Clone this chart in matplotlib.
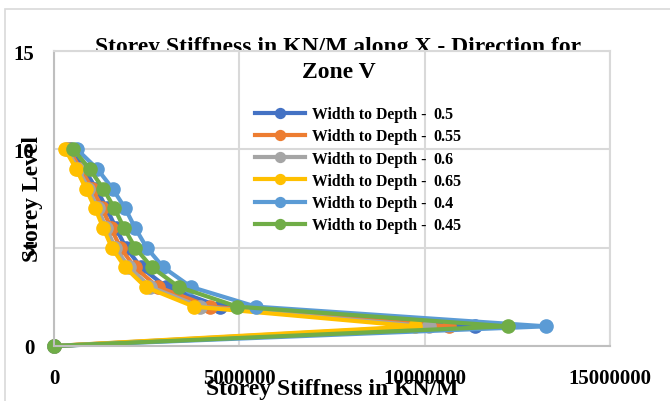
import matplotlib.pyplot as plt
from matplotlib.patches import Rectangle

plt.rcParams['font.family'] = ['Liberation Serif', 'DejaVu Serif']
plt.rcParams['font.weight'] = 'bold'

levels = [0, 1, 2, 3, 4, 5, 6, 7, 8, 9, 10]

ratios = ['0.5', '0.55', '0.6', '0.65', '0.4', '0.45']
colors = ['#4472C4', '#ED7D31', '#A5A5A5', '#FFC000', '#5B9BD5', '#70AD47']

# stiffness per storey level, KN/M
wd_050 = [0, 11360000, 4480000, 3030000, 2350000, 1940000, 1670000, 1420000, 1140000, 810000, 430000]
wd_055 = [0, 10660000, 4210000, 2800000, 2180000, 1790000, 1540000, 1300000, 1030000, 720000, 390000]
wd_060 = [0, 10120000, 3940000, 2600000, 2020000, 1650000, 1410000, 1180000, 930000, 650000, 340000]
wd_065 = [0, 9740000, 3780000, 2470000, 1920000, 1560000, 1330000, 1110000, 860000, 600000, 300000]
wd_040 = [0, 13270000, 5450000, 3700000, 2950000, 2500000, 2190000, 1920000, 1580000, 1170000, 620000]
wd_045 = [0, 12240000, 4950000, 3370000, 2640000, 2190000, 1890000, 1630000, 1330000, 960000, 520000]

series = [wd_050, wd_055, wd_060, wd_065, wd_040, wd_045]

fig = plt.figure(figsize=(6.7, 4.02), dpi=100)
ax = fig.add_axes([54 / 670, 1 - 347 / 402, 556 / 670, 295 / 402])

# outer chart border
fig.patches.append(Rectangle((5 / 670, -0.1), 1.2, 1 - 10 / 402 + 0.1,
                             transform=fig.transFigure, fill=False,
                             edgecolor='#D9D9D9', linewidth=1.2, zorder=-5))

for vals, c in zip(series, colors):
    ax.plot(vals, levels, color=c, linewidth=3, marker='o', markersize=9.5,
            label='Width to Depth -', clip_on=False)

ax.set_xlim(0, 15000000)
ax.set_ylim(0, 15)
ax.set_xticks([0, 5000000, 10000000, 15000000])
ax.set_yticks([0, 5, 10, 15])
ax.ticklabel_format(style='plain', axis='x', useOffset=False)
ax.grid(True, color='#D9D9D9', linewidth=1.5)
ax.set_axisbelow(True)
for s in ax.spines.values():
    s.set_color('#D9D9D9')
    s.set_linewidth(1.5)
ax.spines['bottom'].set_color('#BFBFBF')
ax.spines['left'].set_color('#BFBFBF')
ax.tick_params(length=0, labelsize=15, pad=14)
ax.tick_params(axis='x', pad=16)
for lab in ax.get_xticklabels() + ax.get_yticklabels():
    lab.set_fontweight('bold')

ax.set_xlabel('Storey Stiffness in KN/M', fontsize=17, fontweight='bold', labelpad=-7)
ax.set_ylabel('Storey Level', fontsize=17, fontweight='bold', labelpad=-21)

# first title line sits behind the plot area, second line on top
fig.text(0.505, 1 - 47 / 402, 'Storey Stiffness in KN/M along X - Direction for',
         ha='center', va='center', fontsize=17, fontweight='bold', zorder=-1)
fig.text(0.505, 1 - 73 / 402, 'Zone V', ha='center', va='center',
         fontsize=17, fontweight='bold', zorder=5)

leg = ax.legend(loc='upper left', bbox_to_anchor=(255 / 670, 1 - 107 / 402),
                bbox_transform=fig.transFigure, frameon=False,
                handlelength=3.2, handletextpad=0.45, labelspacing=0.4,
                borderpad=0, borderaxespad=0, markerscale=0.75,
                prop={'weight': 'bold', 'size': 11.3})

# ratio values sit at a common tab stop after each legend label
fig.canvas.draw()
inv = fig.transFigure.inverted()
for txt, r in zip(leg.get_texts(), ratios):
    bb = txt.get_window_extent()
    x0, yc = inv.transform((433, (bb.y0 + bb.y1) / 2))
    fig.text(x0, yc, r, ha='left', va='center', fontsize=11.5,
             fontweight='bold', zorder=6)

fig.savefig('out.png', dpi=100)
